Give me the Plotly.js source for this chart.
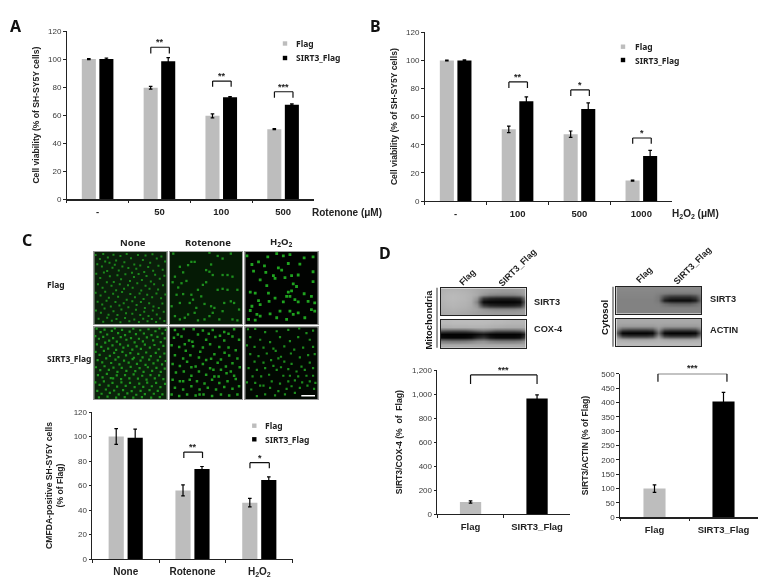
<!DOCTYPE html>
<html><head><meta charset="utf-8">
<script src="https://cdn.plot.ly/plotly-3.0.1.min.js"></script>
<style>html,body{margin:0;padding:0;background:#fff}#c{width:775px;height:583px;filter:blur(0.3px)}</style>
</head><body><div id="c"></div>
<script>
// ---- data ----
const catsA = ['-', '50', '100', '500'];
const flagA = [100, 79.5, 59.5, 50];
const flagAErr = [0.4, 1, 1.4, 0.4];
const sirtA = [100, 98.5, 72.8, 67.5];
const sirtAErr = [0.7, 2.5, 0.5, 0.5];

const catsB = ['-', '100', '500', '1000'];
const flagB = [100, 51, 47.5, 14.5];
const flagBErr = [0.3, 2.3, 2.3, 0.4];
const sirtB = [100, 71, 65.5, 32];
const sirtBErr = [0.4, 3, 4.3, 4];

const catsC = ['None', 'Rotenone', 'H<sub>2</sub>O<sub>2</sub>'];
const flagC = [100, 56, 46];
const flagCErr = [6.5, 4.5, 3.5];
const sirtC = [99, 73.5, 64.5];
const sirtCErr = [7, 2, 2.5];

const catsD = ['Flag', 'SIRT3_Flag'];
const valsD1 = [100, 965];
const errD1 = [10, 30];
const valsD2 = [100, 403];
const errD2 = [13, 32];

// blot densitometry (grey levels, rows top to bottom)
const blotMitoSirt = [
 [176,178,179,178,176,174,170,166,162,160,158,158,160,162,166],
 [178,182,183,182,180,176,170,162,156,155,152,152,153,156,164],
 [180,184,186,184,182,178,170,150,135,130,130,130,132,140,160],
 [180,184,186,184,182,176,150,50,35,30,28,28,30,40,130],
 [178,182,184,182,180,174,130,6,2,2,2,2,2,6,100],
 [176,180,182,180,178,172,150,60,40,35,32,32,35,45,130],
 [174,176,178,176,174,170,164,150,140,136,136,136,136,142,158],
 [170,172,174,172,170,166,162,158,156,154,154,154,154,156,160],
 [168,170,170,168,166,164,160,158,156,154,154,154,154,156,158]];
const blotMitoCox = [
 [186,186,188,188,188,188,188,188,188,186,186,184,182,182,182],
 [183,183,186,186,186,186,186,186,184,182,182,180,180,180,180],
 [172,174,176,176,176,178,178,178,176,174,172,170,170,170,172],
 [85,80,78,78,80,90,105,115,105,90,88,88,88,95,125],
 [4,2,2,2,2,4,12,22,8,4,4,4,4,6,40],
 [12,8,6,6,8,14,40,55,25,14,12,12,12,18,70],
 [125,120,118,118,120,128,140,146,132,125,122,122,122,128,150],
 [170,170,170,170,170,170,170,170,170,170,170,170,170,170,170],
 [174,174,175,175,175,175,175,175,175,175,175,175,175,175,175]];
const blotCytoSirt = [
 [138,138,138,138,138,138,138,138,138,138,138,138,138,138,138],
 [136,136,136,136,136,136,136,136,136,136,136,136,136,136,136],
 [134,134,134,134,134,134,134,130,126,122,122,122,122,126,132],
 [132,132,132,132,132,132,132,122,70,50,48,48,48,65,125],
 [130,130,130,130,130,130,130,120,25,8,6,6,6,25,115],
 [130,130,130,130,130,130,130,128,110,98,95,95,95,108,126],
 [130,130,130,130,130,130,130,130,128,128,128,128,128,128,130],
 [130,130,130,130,130,130,130,130,130,130,130,130,130,130,130],
 [130,130,130,130,130,130,130,130,130,130,130,130,130,130,130]];
const blotCytoActin = [
 [170,170,170,170,170,170,170,170,170,170,170,170,170,170,170],
 [168,168,168,168,168,168,168,168,168,168,168,168,168,168,168],
 [162,156,156,156,156,156,156,162,156,156,156,156,156,156,162],
 [140,85,78,78,78,78,85,145,85,78,78,78,78,85,140],
 [100,4,2,2,2,2,8,110,8,2,2,2,2,8,100],
 [145,70,60,60,60,60,72,150,72,60,60,60,60,72,145],
 [176,168,165,165,165,165,168,176,168,165,165,165,165,168,176],
 [184,184,184,184,184,184,184,184,184,184,184,184,184,184,184],
 [187,187,187,187,187,187,187,187,187,187,187,187,187,187,187]];

// fluorescent cells (crop pixels, 0-219)
const cellsNoneFlag = [[4,9],[17,21],[27,6],[41,17],[46,33],[58,8],[66,26],[79,12],[91,31],[98,6],[111,19],[121,38],[132,9],[147,24],[155,11],[169,33],[176,7],[189,20],[203,14],[214,29],[9,37],[23,44],[33,29],[39,58],[55,48],[62,39],[74,56],[85,44],[103,49],[114,63],[127,51],[139,41],[151,61],[163,46],[178,57],[194,42],[207,54],[6,66],[18,79],[29,62],[47,74],[59,91],[70,71],[81,83],[94,68],[108,88],[120,76],[134,67],[144,85],[158,73],[171,90],[184,69],[198,81],[212,72],[11,98],[25,109],[38,92],[52,103],[66,116],[77,98],[90,112],[102,101],[116,109],[130,95],[142,117],[155,103],[167,112],[181,98],[193,114],[208,101],[4,124],[19,132],[33,121],[44,139],[57,127],[72,136],[84,122],[98,145],[109,128],[123,138],[137,126],[149,143],[160,130],[175,138],[188,126],[202,141],[215,129],[10,151],[24,160],[37,148],[50,166],[64,152],[76,163],[89,156],[103,168],[115,150],[128,161],[141,152],[153,170],[166,156],[179,166],[195,170],[206,157],[5,178],[20,185],[31,172],[43,191],[58,180],[70,192],[82,175],[96,186],[115,188],[126,176],[139,192],[151,182],[164,195],[177,178],[189,190],[210,182],[13,203],[27,212],[39,200],[53,209],[67,204],[79,214],[93,201],[106,211],[121,205],[135,213],[148,203],[161,211],[174,204],[187,213],[199,202],[212,210]];
const cellsRotFlag = [[10,5],[65,30],[75,30],[120,2],[145,12],[160,20],[185,5],[15,75],[40,62],[30,45],[55,40],[125,38],[110,55],[120,60],[130,70],[160,70],[175,70],[190,75],[8,92],[35,95],[50,88],[85,115],[100,100],[110,92],[145,115],[160,112],[175,115],[205,115],[25,108],[20,130],[40,128],[65,130],[70,145],[30,155],[60,155],[95,135],[105,158],[125,165],[135,170],[185,150],[195,155],[165,155],[45,200],[15,195],[30,205],[75,185],[85,208],[105,205],[130,185],[160,180],[120,195],[190,205],[210,175],[205,208],[150,205],[5,165],[80,170],[55,190]];
const cellsH2Flag = [[5,12],[20,38],[40,30],[58,42],[68,15],[95,5],[115,12],[135,8],[178,18],[205,15],[130,35],[165,37],[62,62],[100,48],[110,55],[85,72],[90,80],[25,58],[45,85],[160,70],[140,72],[120,78],[205,60],[205,90],[145,97],[155,105],[65,102],[15,122],[30,125],[70,125],[130,122],[140,118],[125,135],[135,135],[150,145],[160,152],[178,127],[200,135],[210,155],[190,150],[40,148],[72,150],[90,140],[115,152],[20,165],[45,160],[15,178],[35,190],[45,195],[75,188],[105,180],[135,180],[160,185],[200,175],[210,180],[180,200],[125,205],[30,207],[10,205],[95,200],[145,190]];
const cellsNoneSirt = [[7,4],[19,15],[31,7],[39,22],[53,11],[62,3],[72,18],[84,8],[93,24],[107,13],[118,4],[126,21],[139,9],[150,19],[164,6],[173,24],[185,12],[197,3],[206,19],[216,8],[3,27],[14,35],[27,29],[45,41],[57,33],[68,44],[80,30],[97,38],[111,33],[122,46],[135,35],[147,43],[159,31],[178,40],[191,29],[201,45],[213,34],[8,52],[21,60],[33,47],[42,65],[55,55],[66,69],[78,52],[88,62],[102,56],[115,68],[128,58],[141,66],[153,53],[168,62],[182,54],[195,67],[209,57],[4,75],[16,84],[29,72],[47,87],[60,78],[73,91],[85,75],[96,86],[109,79],[120,93],[133,81],[146,92],[157,77],[171,88],[186,78],[199,90],[212,80],[10,100],[24,107],[36,95],[51,109],[64,99],[76,113],[90,102],[104,108],[116,97],[129,112],[140,102],[155,115],[166,99],[179,110],[192,101],[205,113],[216,103],[5,122],[18,131],[31,119],[44,130],[58,123],[70,136],[83,124],[97,133],[110,121],[124,134],[137,125],[149,136],[162,122],[175,133],[188,124],[201,136],[213,126],[11,146],[25,153],[38,142],[50,155],[57,156],[68,147],[81,158],[93,146],[106,156],[119,144],[132,157],[145,148],[158,160],[170,146],[183,156],[196,147],[209,158],[3,168],[16,176],[29,165],[43,178],[55,170],[69,181],[82,168],[95,179],[108,170],[122,183],[136,172],[148,182],[160,169],[174,180],[187,170],[200,183],[214,173],[9,194],[22,203],[35,190],[47,200],[60,193],[74,205],[87,192],[100,202],[113,195],[127,206],[140,194],[153,204],[167,192],[180,203],[192,194],[206,205],[14,214],[40,212],[66,215],[92,213],[118,215],[144,213],[172,215],[198,213]];
const cellsRotSirt = [[15,8],[42,5],[72,6],[100,10],[130,8],[165,14],[195,6],[12,32],[35,28],[58,40],[85,22],[110,38],[138,30],[165,40],[190,28],[210,38],[5,55],[28,60],[48,72],[70,58],[100,62],[122,52],[150,60],[178,62],[200,70],[15,85],[40,95],[62,85],[88,92],[110,100],[135,82],[155,98],[180,86],[205,95],[8,112],[30,118],[52,105],[78,120],[100,112],[122,125],[145,108],[170,120],[190,110],[212,122],[18,138],[42,135],[65,148],[88,135],[110,145],[132,130],[148,150],[172,140],[195,148],[8,160],[30,165],[60,160],[82,165],[105,172],[128,160],[150,170],[175,165],[200,158],[15,185],[40,190],[65,180],[90,190],[115,185],[140,190],[165,182],[190,188],[210,180],[5,205],[28,210],[52,205],[78,208],[102,205],[128,210],[155,205],[180,208],[205,205],[24,22],[68,44],[118,20],[152,26],[178,20],[45,52],[92,75],[166,78],[125,96],[65,122],[155,130],[40,165],[135,150],[90,205],[185,135]];
const cellsH2Sirt = [[8,6],[30,5],[60,15],[95,12],[130,8],[163,3],[185,18],[205,10],[15,30],[45,38],[75,45],[105,30],[135,42],[160,30],[195,38],[5,55],[28,60],[55,62],[85,65],[118,58],[148,68],[175,62],[205,60],[15,82],[40,88],[65,80],[92,72],[108,90],[138,80],[165,92],[190,85],[210,82],[28,105],[55,108],[78,100],[100,95],[118,105],[140,112],[170,120],[195,108],[10,125],[35,130],[60,125],[85,118],[108,122],[130,128],[155,135],[180,130],[205,125],[22,150],[48,150],[72,145],[95,130],[115,148],[135,148],[160,150],[185,148],[205,148],[5,168],[30,170],[55,178],[80,165],[105,172],[130,165],[150,162],[172,168],[195,165],[212,170],[18,190],[45,178],[75,185],[100,195],[125,188],[140,180],[165,185],[188,178],[208,188],[35,210],[60,205],[90,208],[120,205],[150,200]];

// ---- page geometry (pixels) ----
const W = 775, H = 583;
const dx = (a, b) => [a / W, b / W];
const dy = (top, bot) => [1 - bot / H, 1 - top / H];
const GREY = '#bdbdbd', BLACK = '#000000', TICK = '#3a3a3a';
const AR = 'Liberation Sans, Arial, sans-serif', NS = 'Noto Sans, sans-serif';

const traces = [], shapes = [], annotations = [];
const layout = {
  width: W, height: H, margin: {l: 0, r: 0, t: 0, b: 0},
  paper_bgcolor: '#fff', plot_bgcolor: 'rgba(0,0,0,0)', showlegend: false,
  barmode: 'group', bargap: 0.432, bargroupgap: 0.2, shapes, annotations
};

function chart(n, box, yTitle, standoff, ymax, dtick, cats, fmt, xSize) {
  const s = n === 1 ? '' : String(n);
  layout['xaxis' + s] = {domain: dx(box[0], box[1]), anchor: 'y' + s, type: 'category', categoryorder: 'array', categoryarray: cats,
    range: [-0.5, cats.length - 0.5], tickson: 'boundaries', ticks: 'outside', ticklen: 2.5, tickwidth: 1, tickcolor: '#222',
    showline: true, linecolor: '#222', linewidth: 1.2, showgrid: false, zeroline: false, fixedrange: true,
    tickfont: {family: AR, size: xSize, weight: 700, color: '#222'}, ticklabelstandoff: 3};
  layout['yaxis' + s] = {domain: dy(box[2], box[3]), anchor: 'x' + s, range: [0, ymax], dtick, ticks: 'outside', ticklen: 2.5, tickwidth: 1, tickcolor: '#222',
    showline: true, linecolor: '#222', linewidth: 1.2, showgrid: false, zeroline: false, fixedrange: true, tickformat: fmt,
    tickfont: {family: AR, size: 8, color: TICK}, title: {text: yTitle, standoff, font: {family: AR, size: 8.6, weight: 700, color: '#222'}}};
}
function groupBars(n, cats, a, aErr, b, bErr) {
  const s = n === 1 ? '' : String(n);
  [[a, aErr, GREY, 'Flag'], [b, bErr, BLACK, 'SIRT3_Flag']].forEach(([v, e, col, name]) => traces.push({
    type: 'bar', name, x: cats, y: v, xaxis: 'x' + s, yaxis: 'y' + s, marker: {color: col, line: {width: 0}},
    error_y: {type: 'data', array: e, visible: true, color: '#000', thickness: 1.2, width: 1.8}}));
}
function singleBars(n, cats, v, e) {
  traces.push({type: 'bar', x: cats, y: v, width: 0.32, xaxis: 'x' + n, yaxis: 'y' + n,
    marker: {color: [GREY, BLACK], line: {width: 0}},
    error_y: {type: 'data', array: e, visible: true, color: '#000', thickness: 1.2, width: 1.8}});
}
function bracket(n, a, b, top, end, star, starShift) {
  const s = n === 1 ? '' : String(n);
  const seg = (x0, y0, x1, y1) => shapes.push({type: 'line', xref: 'x' + s, yref: 'y' + s, x0, y0, x1, y1, line: {color: '#111', width: 1.2}});
  seg(a, end, a, top); seg(a, top, b, top); seg(b, top, b, end);
  annotations.push({xref: 'x' + s, yref: 'y' + s, x: (a + b) / 2, y: top, yanchor: 'bottom', yshift: starShift, showarrow: false, text: star,
    font: {family: AR, size: 9, weight: 700, color: '#222'}});
}
function note(x, y, text, o) {
  annotations.push(Object.assign({xref: 'paper', yref: 'paper', x: x / W, y: 1 - y / H, showarrow: false, text, xanchor: 'center', yanchor: 'middle',
    font: {family: AR, size: 10, weight: 700, color: '#222'}}, o || {}));
}
function legendMarks(sx, y1, y2, tx) {
  [[y1, GREY, 'Flag'], [y2, BLACK, 'SIRT3_Flag']].forEach(([y, col, t]) => {
    shapes.push({type: 'rect', xref: 'paper', yref: 'paper', x0: (sx - 2.2) / W, x1: (sx + 2.2) / W, y0: 1 - (y + 2.2) / H, y1: 1 - (y - 2.2) / H, fillcolor: col, line: {width: 0}});
    note(tx, y, t, {xanchor: 'left', font: {family: NS, size: 8.5, weight: 700, color: '#222'}});
  });
}

// --- bar panels ---
chart(1, [66.7, 314, 31, 199.3], 'Cell viability (% of SH-SY5Y cells)', 7, 120, 20, catsA, '', 9.5);
groupBars(1, catsA, flagA, flagAErr, sirtA, sirtAErr);
chart(2, [424.7, 672.3, 32.3, 201], 'Cell viability (% of SH-SY5Y cells)', 7, 120, 20, catsB, '', 9.5);
groupBars(2, catsB, flagB, flagBErr, sirtB, sirtBErr);
chart(3, [92.3, 292.7, 412, 559], 'CMFDA-positive SH-SY5Y cells<br>(% of Flag)', 8, 120, 20, catsC, '', 10);
groupBars(3, catsC, flagC, flagCErr, sirtC, sirtCErr);
chart(4, [437.3, 570.3, 370.3, 514], 'SIRT3/COX-4 (%  of  Flag)', 8, 1200, 200, catsD, ',', 9.5);
singleBars(4, catsD, valsD1, errD1);
chart(5, [620, 758, 373.7, 517.3], 'SIRT3/ACTIN (% of Flag)', 11, 500, 50, catsD, '', 9.5);
singleBars(5, catsD, valsD2, errD2);

bracket(1, 0.86, 1.16, 108.4, 104, '**', -2);
bracket(1, 1.86, 2.16, 84.3, 80.2, '**', -2);
bracket(1, 2.86, 3.16, 76.7, 72.4, '***', -2);
bracket(2, 0.86, 1.16, 84.7, 80.4, '**', -2);
bracket(2, 1.86, 2.16, 79, 74.7, '*', -2);
bracket(2, 2.86, 3.16, 44.8, 40.8, '*', -2);
bracket(3, 0.87, 1.15, 87.3, 82.4, '**', -2);
bracket(3, 1.86, 2.15, 78.6, 74, '*', -2);
bracket(4, 0, 1, 1161, 1086, '***', -2);
bracket(5, 0.05, 1.05, 500, 472, '***', -1);

legendMarks(285, 43.5, 58, 294);
legendMarks(623, 46.7, 60, 633);
legendMarks(254.3, 425.7, 439.3, 263);

note(309.5, 212, 'Rotenone (μM)', {xanchor: 'left'});
note(670, 213.5, 'H<sub>2</sub>O<sub>2</sub> (μM)', {xanchor: 'left'});

// --- panel letters ---
const letter = {family: NS, size: 16, weight: 700, color: '#111'};
note(15.8, 26, 'A', {font: letter});
note(375, 26, 'B', {font: letter});
note(27, 240, 'C', {font: letter});
note(385, 252.5, 'D', {font: letter});

// --- micrographs ---
const rows = [[252, 324], [327.3, 399]];
const cols = [[94.3, 166.7], [170, 242], [245.3, 317.7]];
const cellSets = [[cellsNoneFlag, cellsRotFlag, cellsH2Flag], [cellsNoneSirt, cellsRotSirt, cellsH2Sirt]];
const bgs = [['#0a1f0a', '#051a05', '#010301'], ['#0a220a', '#030a03', '#020802']];
const spotSize = [[2, 2.3, 2.8], [2.2, 2.5, 2.2]];
const spotColor = [['#1f9a1f', '#22a522', '#25c025'], ['#22a822', '#25b525', '#22a522']];
let ax = 6;
rows.forEach((r, i) => cols.forEach((c, j) => {
  const s = String(ax++);
  const common = {showgrid: false, zeroline: false, showticklabels: false, ticks: '', showline: true, mirror: true, linecolor: '#9a9a9a', linewidth: 1, fixedrange: true};
  layout['xaxis' + s] = Object.assign({domain: dx(c[0], c[1]), anchor: 'y' + s, range: [0, 219]}, common);
  layout['yaxis' + s] = Object.assign({domain: dy(r[0], r[1]), anchor: 'x' + s, range: [219, 0]}, common);
  shapes.push({type: 'rect', xref: 'x' + s + ' domain', yref: 'y' + s + ' domain', x0: 0, x1: 1, y0: 0, y1: 1, layer: 'below', fillcolor: bgs[i][j], line: {width: 0}});
  const pts = cellSets[i][j];
  traces.push({type: 'scatter', mode: 'markers', x: pts.map(p => p[0]), y: pts.map(p => p[1]), xaxis: 'x' + s, yaxis: 'y' + s,
    marker: {symbol: 'square', size: spotSize[i][j], color: spotColor[i][j], opacity: 0.85, line: {width: 0}}, cliponaxis: true});
}));
note(133, 242.3, 'None', {font: {family: NS, size: 9.5, weight: 700, color: '#222'}});
note(207.7, 242.3, 'Rotenone', {font: {family: NS, size: 9.5, weight: 700, color: '#222'}});
note(281, 242.3, 'H<sub>2</sub>O<sub>2</sub>', {font: {family: NS, size: 9.5, weight: 700, color: '#222'}});
note(44.7, 284, 'Flag', {xanchor: 'left', font: {family: NS, size: 8.5, weight: 700, color: '#222'}});
note(44.7, 358, 'SIRT3_Flag', {xanchor: 'left', font: {family: NS, size: 8.5, weight: 700, color: '#222'}});
shapes.push({type: 'rect', xref: 'paper', yref: 'paper', x0: 301.3 / W, x1: 315 / W, y0: 1 - 396.5 / H, y1: 1 - 395 / H, fillcolor: '#fff', line: {width: 0}});

// --- blots ---
const blots = [[blotMitoSirt, 440.7, 525.7, 288.3, 315.3], [blotMitoCox, 440.7, 525.7, 320, 347.7], [blotCytoSirt, 616.3, 701, 286.7, 313.7], [blotCytoActin, 616.3, 701, 318.7, 346.3]];
blots.forEach(([z, x0, x1, y0, y1]) => {
  const s = String(ax++);
  const common = {showgrid: false, zeroline: false, showticklabels: false, ticks: '', showline: true, mirror: true, linecolor: '#222', linewidth: 1, fixedrange: true};
  layout['xaxis' + s] = Object.assign({domain: dx(x0, x1), anchor: 'y' + s, range: [0, 14]}, common);
  layout['yaxis' + s] = Object.assign({domain: dy(y0, y1), anchor: 'x' + s, range: [8, 0]}, common);
  traces.push({type: 'heatmap', z, xaxis: 'x' + s, yaxis: 'y' + s, zmin: 0, zmax: 255, zsmooth: 'best', showscale: false, colorscale: [[0, '#000'], [1, '#fff']], hoverinfo: 'skip'});
});
const vbar = (x, y0, y1) => shapes.push({type: 'line', xref: 'paper', yref: 'paper', x0: x / W, x1: x / W, y0: 1 - y0 / H, y1: 1 - y1 / H, line: {color: '#555', width: 1.2}});
vbar(437, 287.7, 347.7);
vbar(613, 286.7, 346.7);
note(428, 319.5, 'Mitochondria', {textangle: -90, font: {family: AR, size: 9.4, weight: 700, color: '#111'}});
note(604, 318, 'Cytosol', {textangle: -90, font: {family: AR, size: 9.6, weight: 700, color: '#111'}});
const lane = {family: AR, size: 9, weight: 700, color: '#222'};
note(467.7, 277, 'Flag', {textangle: -45, font: lane});
note(517, 268, 'SIRT3_Flag', {textangle: -45, font: lane});
note(644, 275, 'Flag', {textangle: -45, font: lane});
note(692, 266, 'SIRT3_Flag', {textangle: -45, font: lane});
const side = {xanchor: 'left', font: {family: AR, size: 9.2, weight: 700, color: '#222'}};
note(531.7, 301.7, 'SIRT3', side);
note(531.7, 328.7, 'COX-4', side);
note(707.7, 299.3, 'SIRT3', side);
note(707.7, 330.3, 'ACTIN', side);

Plotly.newPlot('c', traces, layout, {staticPlot: true, displayModeBar: false});
</script></body></html>
